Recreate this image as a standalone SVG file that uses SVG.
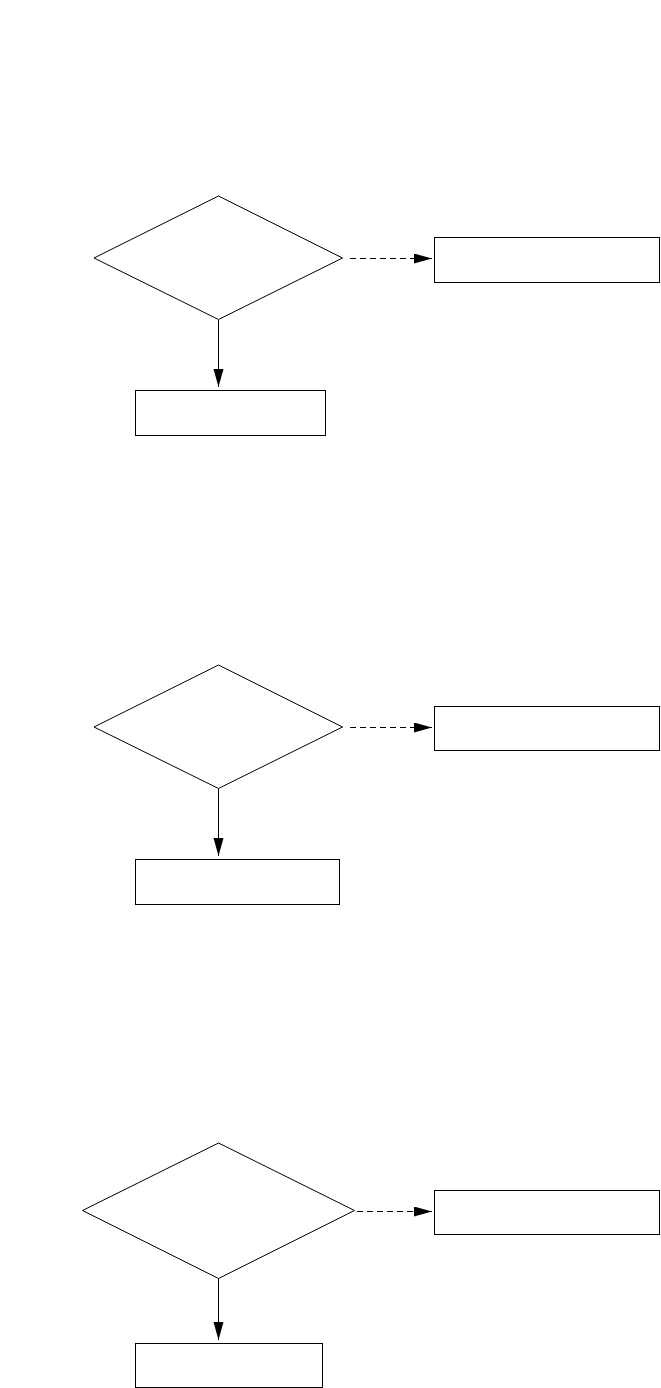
<svg xmlns="http://www.w3.org/2000/svg" width="661" height="1388" viewBox="0 0 661 1388">
<style>
.dia{fill:#fff;stroke:#000;stroke-width:1}
.box{fill:#fff;stroke:#000;stroke-width:1}
.c{fill:none;stroke:#000;stroke-width:1}
.d{stroke-dasharray:6,4}
</style>
<defs>
<marker id="ah" markerUnits="userSpaceOnUse" markerWidth="20" markerHeight="12" refX="18" refY="5" orient="auto">
<path d="M0,0 L18,5 L0,10 Z" fill="#000"/>
</marker>
</defs>
<rect width="661" height="1388" fill="#fff"/>
<g id="connectors">
<line class="c d" x1="350" y1="258.5" x2="432" y2="258.5" marker-end="url(#ah)"/>
<line class="c" x1="218.5" y1="320" x2="218.5" y2="387" marker-end="url(#ah)"/>
<line class="c d" x1="350" y1="727.5" x2="432" y2="727.5" marker-end="url(#ah)"/>
<line class="c" x1="218.5" y1="789" x2="218.5" y2="856" marker-end="url(#ah)"/>
<line class="c d" x1="357" y1="1211.5" x2="432" y2="1211.5" marker-end="url(#ah)"/>
<line class="c" x1="218.5" y1="1274" x2="218.5" y2="1340" marker-end="url(#ah)"/>
</g>
<g id="decision1"><polygon class="dia" points="218.5,196 342.5,258 218.5,319.5 94,258"/></g>
<g id="box1right"><rect class="box" x="434.5" y="237.5" width="225" height="45"/></g>
<g id="box1down"><rect class="box" x="135.5" y="390.5" width="190" height="45"/></g>
<g id="decision2"><polygon class="dia" points="218.5,665 342.5,727 218.5,788.5 94,727"/></g>
<g id="box2right"><rect class="box" x="434.5" y="706.5" width="225" height="44"/></g>
<g id="box2down"><rect class="box" x="135.5" y="859.5" width="204" height="45"/></g>
<g id="decision3"><polygon class="dia" points="218.5,1143 354.5,1210.5 218.5,1278.5 82.5,1210.5"/></g>
<g id="box3right"><rect class="box" x="434.5" y="1190.5" width="225" height="44"/></g>
<g id="box3down"><rect class="box" x="135.5" y="1343.5" width="187" height="44"/></g>
</svg>
